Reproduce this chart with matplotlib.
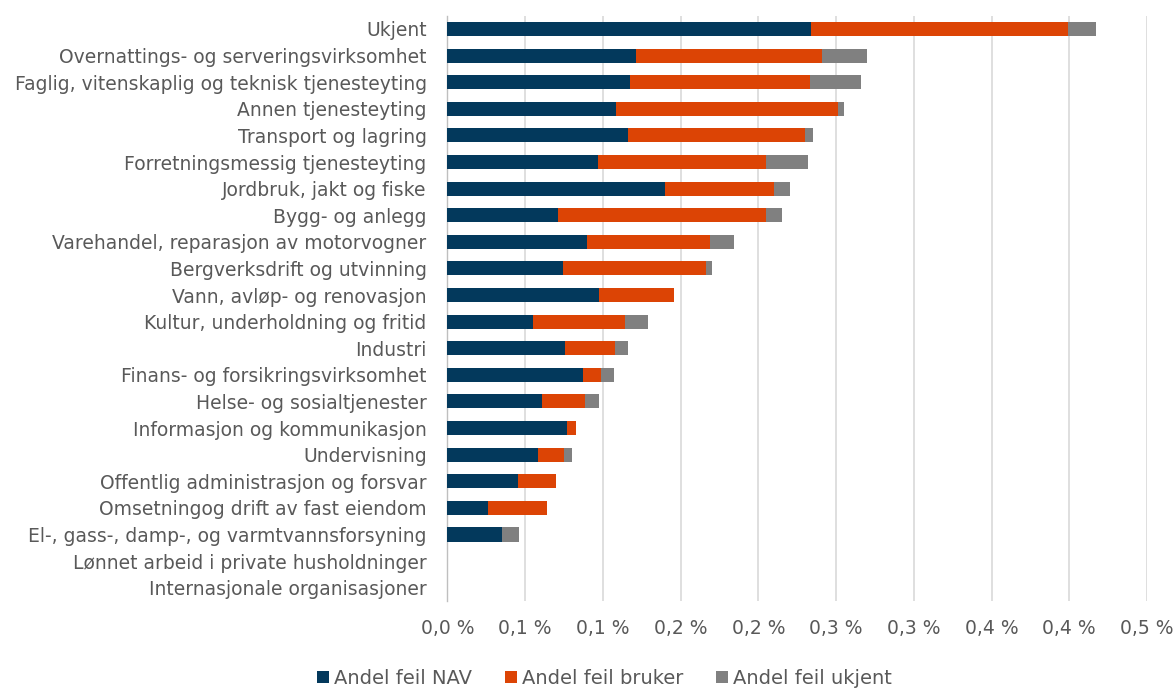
import matplotlib
matplotlib.use("Agg")
import matplotlib.pyplot as plt
import numpy as np
from matplotlib.patches import Patch

categories = [
    "Ukjent",
    "Overnattings- og serveringsvirksomhet",
    "Faglig, vitenskaplig og teknisk tjenesteyting",
    "Annen tjenesteyting",
    "Transport og lagring",
    "Forretningsmessig tjenesteyting",
    "Jordbruk, jakt og fiske",
    "Bygg- og anlegg",
    "Varehandel, reparasjon av motorvogner",
    "Bergverksdrift og utvinning",
    "Vann, avløp- og renovasjon",
    "Kultur, underholdning og fritid",
    "Industri",
    "Finans- og forsikringsvirksomhet",
    "Helse- og sosialtjenester",
    "Informasjon og kommunikasjon",
    "Undervisning",
    "Offentlig administrasjon og forsvar",
    "Omsetningog drift av fast eiendom",
    "El-, gass-, damp-, og varmtvannsforsyning",
    "Lønnet arbeid i private husholdninger",
    "Internasjonale organisasjoner",
]

# values in percent
andel_nav = [0.2340, 0.1212, 0.1172, 0.1082, 0.1160, 0.0967, 0.1398, 0.0708,
             0.0895, 0.0741, 0.0973, 0.0548, 0.0753, 0.0871, 0.0606, 0.0769,
             0.0581, 0.0452, 0.0262, 0.0349, 0.0, 0.0]
andel_bruker = [0.1650, 0.1199, 0.1160, 0.1431, 0.1142, 0.1085, 0.0705, 0.1338,
                0.0796, 0.0919, 0.0482, 0.0597, 0.0326, 0.0114, 0.0280, 0.0057,
                0.0166, 0.0244, 0.0379, 0.0, 0.0, 0.0]
andel_ukjent = [0.0185, 0.0289, 0.0331, 0.0036, 0.0051, 0.0265, 0.0103, 0.0108,
                0.0151, 0.0042, 0.0, 0.0142, 0.0081, 0.0085, 0.0090, 0.0,
                0.0057, 0.0, 0.0, 0.0109, 0.0, 0.0]

tick_values = [0.0, 0.05, 0.10, 0.15, 0.20, 0.25, 0.30, 0.35, 0.40, 0.45]
tick_labels = ["0,0 %", "0,1 %", "0,1 %", "0,2 %", "0,2 %", "0,3 %", "0,3 %",
               "0,4 %", "0,4 %", "0,5 %"]

series_names = ["Andel feil NAV", "Andel feil bruker", "Andel feil ukjent"]
colors = ["#03395C", "#DC4405", "#808080"]

plt.rcParams['font.family'] = ['DejaVu Sans']
text_color = "#595959"

fig = plt.figure(figsize=(11.76, 6.88), dpi=100)
ax = fig.add_axes([0.3805, 0.1265, 0.5948, 0.8507])

y = np.arange(len(categories))
nav = np.array(andel_nav)
bru = np.array(andel_bruker)
ukj = np.array(andel_ukjent)

bh = 0.53
ax.barh(y, nav, height=bh, color=colors[0], zorder=3)
ax.barh(y, bru, left=nav, height=bh, color=colors[1], zorder=3)
ax.barh(y, ukj, left=nav + bru, height=bh, color=colors[2], zorder=3)

ax.set_ylim(len(categories) - 0.5, -0.5)
ax.set_xlim(0, 0.45)
ax.set_yticks(y)
ax.set_yticklabels(categories, fontsize=13.5, color=text_color)
ax.set_xticks(tick_values)
ax.set_xticklabels(tick_labels, fontsize=13.5, color=text_color)
ax.tick_params(axis='both', length=0)
ax.tick_params(axis='y', pad=15)
ax.tick_params(axis='x', pad=13)

ax.grid(axis='x', color="#D9D9D9", linewidth=1.2, zorder=0)
for s in ["top", "right", "bottom"]:
    ax.spines[s].set_visible(False)
ax.spines["left"].set_color("#BFBFBF")
ax.spines["left"].set_linewidth(1.0)

handles = [Patch(facecolor=c, edgecolor='none') for c in colors]
leg = fig.legend(handles, series_names, loc='center', bbox_to_anchor=(0.514, 0.014),
                 ncol=3, frameon=False, fontsize=14, handlelength=0.6,
                 handleheight=0.6, handletextpad=0.25, columnspacing=1.7)
for t in leg.get_texts():
    t.set_color(text_color)

fig.savefig("out.png", dpi=100)
